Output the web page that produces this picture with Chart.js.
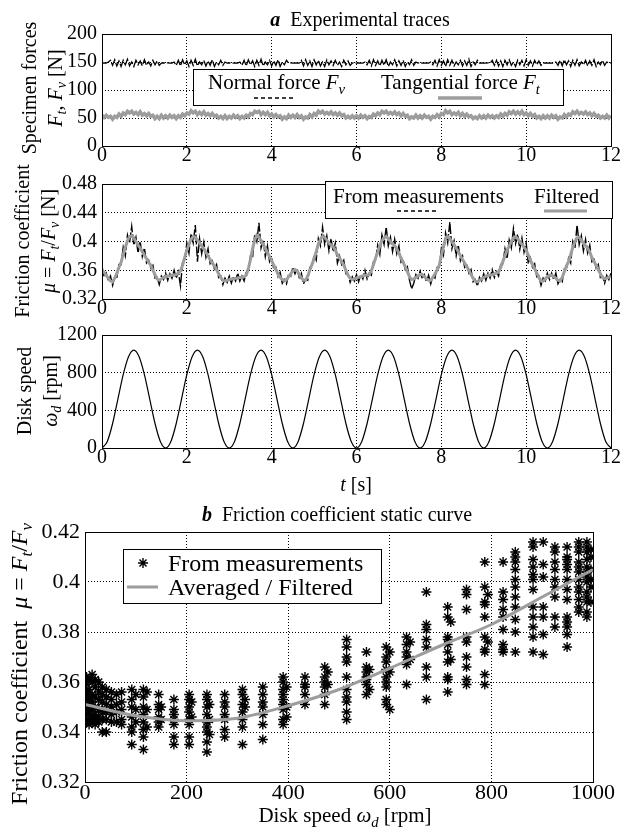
<!DOCTYPE html>
<html>
<head>
<meta charset="utf-8">
<script src="https://cdn.jsdelivr.net/npm/chart.js@4.4.1/dist/chart.umd.min.js"></script>
<style>
html, body { margin: 0; padding: 0; background: #fff; }
#wrap { position: relative; width: 623px; height: 827px; }
canvas { position: absolute; left: 0; top: 0; }
</style>
</head>
<body>
<div id="wrap">
  <canvas id="forces" width="623" height="827"></canvas>
  <canvas id="friction" width="623" height="827"></canvas>
  <canvas id="speed" width="623" height="827"></canvas>
  <canvas id="static" width="623" height="827"></canvas>
</div>
<script>
// sampled traces, one value every traceStep seconds from t = 0 to 12 s
const traceStep = 0.05;

const normalForce = [
  148,148.5,148,150,153,144,154,143,152,142, 153,145,155,143,150,142,153,145,152,143,
  154,144,150,143,153,145,152,144,148,148.5, 148,148.5,148,148,150,144,153,143,154,145,
  152,142,153,144,155,143,150,145,153,143, 152,144,154,142,150,145,153,144,150,148,
  148.5,148,148,148.5,148,150,144,153,143,154, 145,152,142,153,144,155,143,150,145,153,
  143,152,144,154,142,150,145,153,148,148.5, 148,148,148.5,148,153,143,154,144,152,142,
  154,145,153,143,150,142,154,145,152,144, 153,144,150,142,153,145,152,144,148,148.5,
  148,148.5,148,148,150,145,153,143,154,144, 152,143,153,144,154,142,150,145,154,143,
  152,144,153,142,150,145,154,144,150,148, 148.5,148,148,148.5,148,150,145,153,143,154,
  144,152,142,154,144,153,143,150,145,153, 143,152,144,155,142,150,145,153,148,148.5,
  148,148,148.5,148,153,144,153,143,152,142, 153,145,154,144,150,142,153,145,153,143,
  154,144,152,143,153,145,152,144,148,148.5, 148,148.5,148,148,150,144,153,143,154,145,
  152,142,153,144,154,143,150,145,153,143, 152,144,154,142,150,145,153,144,150,148,
  148.5
];

const tangentialForce = [
  55,51,55,51,53,48,53,51,57,53, 59,56,62,59,62,57,60,56,61,55,
  58,54,58,53,55,49,53,49,55,50, 54,50,55,51,54,49,54,51,57,54,
  59,57,63,59,62,56,60,56,61,55, 58,54,58,53,55,50,53,49,54,49,
  53,50,55,51,54,49,53,50,55,52, 58,56,62,60,62,56,60,56,60,54,
  57,52,56,52,54,48,52,49,55,51, 55,51,56,51,54,48,52,50,56,52,
  58,55,62,59,62,57,60,57,61,56, 59,55,59,54,56,50,53,50,54,50,
  54,50,55,51,54,49,53,51,57,54, 59,56,62,59,62,57,60,57,61,56,
  59,54,58,53,55,49,52,50,55,50, 54,50,55,51,53,48,53,51,56,52,
  58,56,63,59,62,56,59,56,60,54, 58,53,57,52,54,49,52,49,54,50,
  54,50,55,51,54,50,54,51,57,53, 58,55,61,58,62,57,61,57,62,56,
  59,54,58,53,56,50,53,49,54,50, 54,50,55,51,54,48,52,50,56,52,
  57,55,61,58,62,57,60,57,61,56, 59,54,58,53,55,50,53,50,55,50,
  54
];

const frictionRaw = [
  .365,.351,.356,.345,.352,.339,.351,.350,.368,.368, .392,.380,.409,.398,.421,.395,.406,.384,.400,.379,
  .391,.370,.374,.363,.367,.349,.350,.340,.352,.347, .356,.346,.355,.349,.360,.349,.358,.338,.371,.375,
  .398,.384,.411,.398,.423,.372,.404,.383,.399,.378, .390,.369,.373,.362,.368,.350,.352,.340,.349,.343,
  .352,.342,.351,.345,.356,.345,.352,.345,.357,.359, .380,.378,.410,.400,.426,.391,.402,.379,.394,.372,
  .378,.361,.364,.351,.357,.342,.347,.341,.355,.352, .364,.355,.362,.350,.356,.341,.348,.346,.364,.365,
  .381,.374,.404,.394,.420,.396,.408,.387,.404,.386, .398,.370,.380,.368,.374,.355,.355,.343,.351,.345,
  .354,.344,.354,.348,.360,.348,.356,.353,.372,.374, .395,.382,.409,.396,.420,.394,.406,.386,.403,.383,
  .394,.371,.374,.361,.365,.346,.334,.342,.354,.349, .359,.348,.354,.344,.353,.341,.352,.349,.364,.364,
  .390,.381,.412,.398,.427,.390,.401,.380,.395,.373, .380,.364,.368,.356,.361,.344,.347,.338,.350,.345,
  .355,.346,.356,.349,.361,.350,.358,.352,.368,.369, .390,.376,.402,.391,.418,.397,.410,.389,.405,.385,
  .398,.369,.377,.364,.369,.351,.352,.339,.349,.345, .356,.347,.356,.347,.356,.341,.347,.344,.362,.363,
  .377,.370,.400,.391,.423,.396,.408,.387,.403,.384, .395,.372,.375,.363,.368,.350,.352,.342,.353,.347,
  .356
];

const frictionFiltered = [
  .360,.357,.353,.349,.345,.344,.349,.356,.364,.371, .382,.392,.401,.407,.408,.405,.400,.395,.391,.386,
  .381,.376,.371,.367,.360,.354,.348,.346,.348,.350, .351,.352,.352,.353,.353,.354,.356,.359,.367,.378,
  .388,.396,.403,.407,.406,.402,.398,.394,.390,.385, .380,.375,.370,.366,.361,.355,.350,.346,.345,.346,
  .347,.348,.348,.349,.349,.350,.350,.351,.353,.362, .375,.390,.402,.409,.406,.401,.396,.390,.385,.379,
  .373,.367,.361,.355,.350,.347,.345,.347,.351,.355, .359,.361,.359,.354,.349,.346,.346,.352,.360,.368,
  .376,.386,.396,.403,.407,.406,.402,.398,.395,.393, .388,.382,.377,.372,.367,.360,.353,.349,.347,.348,
  .349,.350,.351,.352,.353,.353,.354,.359,.368,.377, .385,.394,.401,.405,.407,.404,.400,.397,.394,.390,
  .384,.377,.371,.365,.358,.351,.347,.348,.350,.352, .354,.354,.351,.348,.346,.346,.350,.355,.360,.367,
  .380,.393,.404,.407,.404,.400,.395,.391,.386,.380, .375,.370,.365,.360,.354,.349,.345,.344,.346,.348,
  .350,.352,.353,.353,.354,.355,.356,.358,.364,.372, .380,.388,.394,.400,.405,.407,.404,.400,.396,.392,
  .388,.381,.374,.368,.362,.356,.350,.345,.345,.348, .351,.353,.353,.351,.349,.346,.345,.350,.358,.366,
  .372,.382,.392,.400,.405,.406,.402,.398,.394,.391, .385,.378,.372,.367,.361,.355,.350,.348,.349,.350,
  .351
];

// disk speed, one value every speedStep seconds
const speedStep = 0.125;
const diskSpeed = [
  0,70,260,520,780,970,1040,970,780,520,260,70,
  0,70,260,520,780,970,1040,970,780,520,260,70,
  0,70,260,520,780,970,1040,970,780,520,260,70,
  0,70,260,520,780,970,1040,970,780,520,260,70,
  0,70,260,520,780,970,1040,970,780,520,260,70,
  0,70,260,520,780,970,1040,970,780,520,260,70,
  0,70,260,520,780,970,1040,970,780,520,260,70,
  0,70,260,520,780,970,1040,970,780,520,260,70,
  0
];

// static curve: friction samples grouped by disk speed [rpm]
const staticSpeed = [3, 8, 14, 20, 27, 34, 42, 52, 62, 72, 92, 100, 115, 122, 145, 150, 175, 205, 210,
  240, 245, 275, 310, 315, 350, 390, 397, 433, 472, 478, 515, 554, 560, 593, 600, 633, 640, 672,
  714, 720, 751, 787, 793, 823, 847, 882, 902, 925, 949, 972, 988, 996];
const staticMu = [
  [0.362, 0.359, 0.356, 0.353, 0.350, 0.347, 0.344],
  [0.361, 0.357, 0.354, 0.351, 0.348, 0.345, 0.343],
  [0.363, 0.360, 0.355, 0.352, 0.349, 0.346, 0.344],
  [0.361, 0.358, 0.354, 0.350, 0.347, 0.345, 0.343],
  [0.360, 0.356, 0.353, 0.349, 0.346, 0.344],
  [0.358, 0.355, 0.352, 0.348, 0.345, 0.340],
  [0.357, 0.354, 0.351, 0.348, 0.345, 0.340],
  [0.356, 0.353, 0.350, 0.347, 0.344],
  [0.355, 0.351, 0.348, 0.344],
  [0.356, 0.352, 0.349, 0.345, 0.343],
  [0.357, 0.353, 0.350, 0.346, 0.342, 0.340, 0.335],
  [0.355, 0.349, 0.344],
  [0.357, 0.354, 0.350, 0.347, 0.344, 0.341, 0.338, 0.333],
  [0.356, 0.349, 0.342],
  [0.355, 0.351, 0.349, 0.346, 0.344, 0.342],
  [0.350, 0.345],
  [0.353, 0.349, 0.347, 0.345, 0.343, 0.338, 0.335],
  [0.355, 0.353, 0.350, 0.348, 0.345, 0.343, 0.338, 0.335],
  [0.352, 0.346],
  [0.355, 0.353, 0.350, 0.347, 0.344, 0.342, 0.340, 0.336, 0.332],
  [0.351, 0.345, 0.339],
  [0.355, 0.352, 0.350, 0.347, 0.345, 0.341, 0.338],
  [0.357, 0.355, 0.351, 0.348, 0.345, 0.342, 0.335],
  [0.353, 0.350],
  [0.358, 0.355, 0.352, 0.350, 0.347, 0.343, 0.337],
  [0.362, 0.360, 0.357, 0.355, 0.353, 0.351, 0.349, 0.345, 0.343],
  [0.358, 0.350, 0.346],
  [0.362, 0.359, 0.358, 0.355, 0.351],
  [0.366, 0.362, 0.360, 0.358, 0.355, 0.351],
  [0.364, 0.359],
  [0.377, 0.374, 0.370, 0.368, 0.362, 0.357, 0.354, 0.352, 0.348, 0.345],
  [0.372, 0.366, 0.364, 0.362, 0.361, 0.359, 0.355],
  [0.365, 0.357],
  [0.374, 0.370, 0.368, 0.365, 0.362, 0.360, 0.358, 0.353, 0.351],
  [0.372, 0.364, 0.349],
  [0.378, 0.375, 0.372, 0.370, 0.367, 0.359],
  [0.376, 0.369],
  [0.396, 0.383, 0.381, 0.377, 0.374, 0.366, 0.362, 0.353],
  [0.390, 0.386, 0.378, 0.377, 0.375, 0.372, 0.368, 0.362, 0.361, 0.356],
  [0.384, 0.369],
  [0.397, 0.395, 0.389, 0.378, 0.376, 0.370, 0.366, 0.361, 0.359],
  [0.408, 0.398, 0.392, 0.391, 0.386, 0.378, 0.373, 0.372, 0.363, 0.359],
  [0.395, 0.376],
  [0.408, 0.396, 0.393, 0.389, 0.386, 0.381, 0.375, 0.373, 0.372],
  [0.412, 0.410, 0.408, 0.405, 0.401, 0.398, 0.394, 0.390, 0.385, 0.380, 0.372],
  [0.416, 0.414, 0.409, 0.406, 0.403, 0.401, 0.397, 0.390, 0.386, 0.382, 0.378, 0.372],
  [0.416, 0.407, 0.402, 0.390, 0.386, 0.379, 0.371],
  [0.414, 0.412, 0.408, 0.405, 0.401, 0.398, 0.394, 0.386, 0.382],
  [0.414, 0.410, 0.409, 0.407, 0.405, 0.401, 0.397, 0.393, 0.386, 0.384, 0.382, 0.379, 0.374],
  [0.416, 0.414, 0.412, 0.408, 0.406, 0.404, 0.401, 0.398, 0.396, 0.393, 0.390, 0.388],
  [0.416, 0.414, 0.412, 0.409, 0.406, 0.404, 0.402, 0.400, 0.396, 0.394, 0.392, 0.388, 0.386],
  [0.413, 0.410, 0.405, 0.401, 0.398, 0.392]
];

const avgSpeed = [0, 100, 200, 300, 400, 500, 600, 700, 800, 900, 1000];
const avgMu = [0.351, 0.3465, 0.3445, 0.3455, 0.3505, 0.357, 0.3655, 0.3745, 0.383, 0.394, 0.405];

const SERIF = '"Liberation Serif", "Times New Roman", serif';
const W = 623, H = 827;
const GRAY = '#9d9d9d';

const toPoints = (vals, step) => vals.map((v, i) => ({ x: Math.round(i * step * 1000) / 1000, y: v }));

// text made of [string, style] parts; style: i italic, b bold, s subscript
function drawRich(ctx, parts, x, y, size, opt) {
  opt = opt || {};
  const fontFor = st => (st.includes('i') ? 'italic ' : '') + (st.includes('b') ? 'bold ' : '') +
    (st.includes('s') ? size * 0.7 : size) + 'px ' + SERIF;
  ctx.save();
  ctx.translate(x, y);
  if (opt.rotate) ctx.rotate(opt.rotate);
  let total = 0;
  parts.forEach(p => { ctx.font = fontFor(p[1] || ''); total += ctx.measureText(p[0]).width; });
  let cx = opt.align === 'left' ? 0 : -total / 2;
  ctx.fillStyle = '#000';
  ctx.textBaseline = 'alphabetic';
  ctx.textAlign = 'left';
  parts.forEach(p => {
    const st = p[1] || '';
    ctx.font = fontFor(st);
    ctx.fillText(p[0], cx, st.includes('s') ? size * 0.22 : 0);
    cx += ctx.measureText(p[0]).width;
  });
  ctx.restore();
}

function drawLegend(chart, lg) {
  const ctx = chart.ctx;
  const [bx, by, bw, bh] = lg.box;
  ctx.save();
  ctx.fillStyle = '#fff';
  ctx.fillRect(bx, by, bw, bh);
  ctx.strokeStyle = '#000';
  ctx.lineWidth = 1;
  ctx.strokeRect(bx + 0.5, by + 0.5, bw, bh);
  lg.items.forEach(it => {
    const ds = chart.data.datasets[it.ds];
    drawRich(ctx, it.parts, it.tx, it.ty, lg.size, { align: 'left' });
    ctx.save();
    ctx.strokeStyle = ds.borderColor;
    if (it.star) {
      ctx.lineWidth = ds.borderWidth;
      Chart.helpers.drawPoint(ctx, { pointStyle: 'star', radius: ds.pointRadius, borderWidth: ds.borderWidth }, it.x1, it.y);
    } else {
      ctx.lineWidth = it.width || ds.borderWidth;
      ctx.setLineDash(it.dash || []);
      ctx.beginPath();
      ctx.moveTo(it.x1, it.y);
      ctx.lineTo(it.x2, it.y);
      ctx.stroke();
    }
    ctx.restore();
  });
  ctx.restore();
}

const decor = {
  id: 'decor',
  afterDraw(chart, args, o) {
    const { ctx, chartArea: a } = chart;
    ctx.save();
    ctx.strokeStyle = '#000';
    ctx.lineWidth = 1;
    ctx.strokeRect(Math.round(a.left) + 0.5, Math.round(a.top) + 0.5, Math.round(a.width), Math.round(a.height));
    ctx.restore();
    (o.texts || []).forEach(t => drawRich(ctx, t.parts, t.x, t.y, t.size, t));
    if (o.legend) drawLegend(chart, o.legend);
  }
};

function tickFont(size) {
  return { family: SERIF, size: size, lineHeight: 1 };
}

function xAxis(min, max, step, size) {
  return {
    type: 'linear', min: min, max: max,
    ticks: { stepSize: step, padding: 0, color: '#000', font: tickFont(size), maxRotation: 0,
      callback: v => String(+v.toFixed(3)) },
    grid: { color: '#000', lineWidth: 1, drawTicks: false },
    border: { display: false, dash: [1, 2] },
    afterFit: s => { s.height = 22; }
  };
}

function yAxis(min, max, step, width, size) {
  return {
    type: 'linear', min: min, max: max,
    ticks: { stepSize: step, padding: 5, color: '#000', font: tickFont(size),
      callback: v => String(+v.toFixed(3)) },
    grid: { color: '#000', lineWidth: 1, drawTicks: false },
    border: { display: false, dash: [1, 2] },
    afterFit: s => { s.width = width; }
  };
}

function baseOptions(top, bottom, left, right) {
  return {
    responsive: false,
    animation: false,
    events: [],
    layout: { padding: { left: 0, top: top, right: W - right, bottom: H - bottom - 22 } },
    plugins: { legend: { display: false }, tooltip: { enabled: false } }
  };
}

const rot = -Math.PI / 2;

// a-1: specimen forces
const opt1 = baseOptions(34, 146, 102, 611);
opt1.scales = { x: xAxis(0, 12, 2, 20), y: yAxis(0, 200, 50, 102, 20) };
opt1.plugins.decor = {
  texts: [
    { parts: [['a', 'bi'], ['  Experimental traces', '']], x: 360, y: 26, size: 20 },
    { parts: [['Specimen forces', '']], x: 36, y: 88, size: 20, rotate: rot },
    { parts: [['F', 'i'], ['t', 'is'], [', ', ''], ['F', 'i'], ['v', 'is'], [' [N]', '']], x: 62, y: 88, size: 20, rotate: rot }
  ],
  legend: {
    box: [193, 69, 370, 36], size: 21,
    items: [
      { ds: 0, parts: [['Normal force ', ''], ['F', 'i'], ['v', 'is']], tx: 208, ty: 89, x1: 254, x2: 294, y: 98, dash: [4, 3] },
      { ds: 1, parts: [['Tangential force ', ''], ['F', 'i'], ['t', 'is']], tx: 381, ty: 89, x1: 438, x2: 482, y: 98 }
    ]
  }
};
new Chart(document.getElementById('forces'), {
  type: 'line',
  data: {
    datasets: [
      { label: 'Normal force', data: toPoints(normalForce, traceStep), borderColor: '#000', borderWidth: 1.3,
        borderDash: [10, 2], pointRadius: 0 },
      { label: 'Tangential force', data: toPoints(tangentialForce, traceStep), borderColor: GRAY, borderWidth: 3.5,
        pointRadius: 0 }
    ]
  },
  options: opt1,
  plugins: [decor]
});

// a-2: friction coefficient
const opt2 = baseOptions(184, 299, 102, 611);
opt2.scales = { x: xAxis(0, 12, 2, 20), y: yAxis(0.32, 0.48, 0.04, 102, 20) };
opt2.plugins.decor = {
  texts: [
    { parts: [['Friction coefficient', '']], x: 29, y: 241, size: 20, rotate: rot },
    { parts: [['\u03bc', 'i'], [' = ', ''], ['F', 'i'], ['t', 'is'], ['/', ''], ['F', 'i'], ['v', 'is'], [' [N]', '']],
      x: 55, y: 241, size: 20, rotate: rot }
  ],
  legend: {
    box: [325, 181, 287, 37], size: 21,
    items: [
      { ds: 0, parts: [['From measurements', '']], tx: 333, ty: 203, x1: 397, x2: 438, y: 211, dash: [4, 3] },
      { ds: 1, parts: [['Filtered', '']], tx: 534, ty: 203, x1: 544, x2: 587, y: 211 }
    ]
  }
};
new Chart(document.getElementById('friction'), {
  type: 'line',
  data: {
    datasets: [
      { label: 'From measurements', data: toPoints(frictionRaw, traceStep), borderColor: '#000', borderWidth: 1.4,
        borderDash: [10, 2], pointRadius: 0, order: 1 },
      { label: 'Filtered', data: toPoints(frictionFiltered, traceStep), borderColor: GRAY, borderWidth: 3,
        pointRadius: 0, order: 0 }
    ]
  },
  options: opt2,
  plugins: [decor]
});

// a-3: disk speed
const opt3 = baseOptions(335, 448, 102, 611);
opt3.scales = { x: xAxis(0, 12, 2, 20), y: yAxis(0, 1200, 400, 102, 20) };
opt3.plugins.decor = {
  texts: [
    { parts: [['Disk speed', '']], x: 31, y: 391, size: 20, rotate: rot },
    { parts: [['\u03c9', 'i'], ['d', 'is'], [' [rpm]', '']], x: 57, y: 391, size: 20, rotate: rot },
    { parts: [['t', 'i'], [' [s]', '']], x: 356, y: 491, size: 20 }
  ]
};
new Chart(document.getElementById('speed'), {
  type: 'line',
  data: {
    datasets: [
      { label: 'Disk speed', data: toPoints(diskSpeed, speedStep), borderColor: '#000', borderWidth: 1.2,
        pointRadius: 0, cubicInterpolationMode: 'monotone' }
    ]
  },
  options: opt3,
  plugins: [decor]
});

// b: static curve
const opt4 = baseOptions(532, 782, 85, 593);
opt4.scales = { x: xAxis(0, 1000, 200, 22), y: yAxis(0.32, 0.42, 0.02, 85, 22) };
opt4.plugins.decor = {
  texts: [
    { parts: [['b', 'bi'], ['  Friction coefficient static curve', '']], x: 337, y: 521, size: 20 },
    { parts: [['Friction coefficient  ', ''], ['\u03bc', 'i'], [' = ', ''], ['F', 'i'], ['t', 'is'], ['/', ''], ['F', 'i'], ['v', 'is']],
      x: 27, y: 664, size: 24, rotate: rot },
    { parts: [['Disk speed ', ''], ['\u03c9', 'i'], ['d', 'is'], [' [rpm]', '']], x: 345, y: 822, size: 21 }
  ],
  legend: {
    box: [123, 549, 258, 54], size: 24,
    items: [
      { ds: 0, star: true, parts: [['From measurements', '']], tx: 168, ty: 571, x1: 143, y: 563 },
      { ds: 1, parts: [['Averaged / Filtered', '']], tx: 168, ty: 595, x1: 127, x2: 158, y: 587 }
    ]
  }
};
new Chart(document.getElementById('static'), {
  type: 'scatter',
  data: {
    datasets: [
      { label: 'From measurements',
        data: staticSpeed.flatMap((s, i) => staticMu[i].map(m => ({ x: s, y: m }))),
        pointStyle: 'star', pointRadius: 5, borderColor: '#000', backgroundColor: '#000', borderWidth: 1.4, order: 1 },
      { type: 'line', label: 'Averaged / Filtered',
        data: avgSpeed.map((s, i) => ({ x: s, y: avgMu[i] })),
        borderColor: GRAY, borderWidth: 3, pointRadius: 0, showLine: true, cubicInterpolationMode: 'monotone', order: 0 }
    ]
  },
  options: opt4,
  plugins: [decor]
});
</script>
</body>
</html>
